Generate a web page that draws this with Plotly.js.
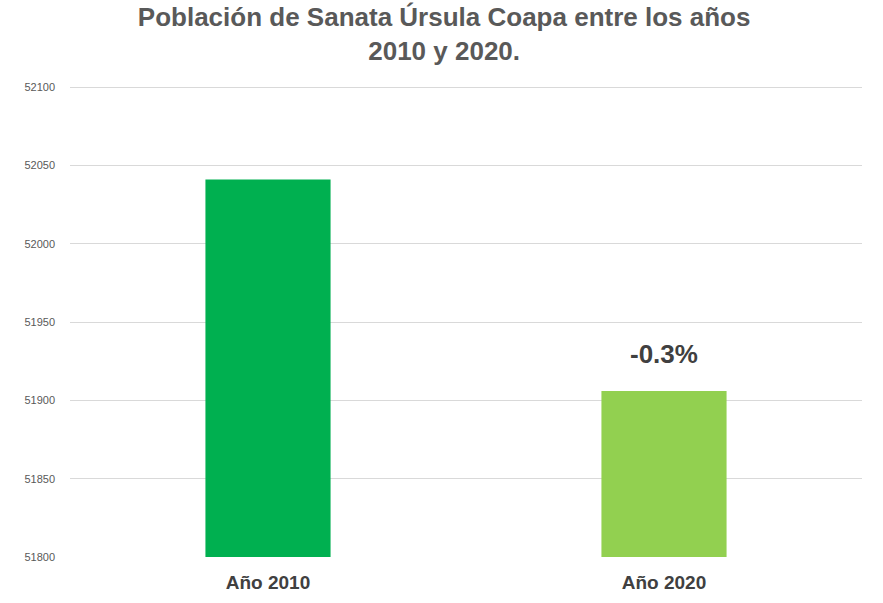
<!DOCTYPE html>
<html>
<head>
<meta charset="utf-8">
<script src="https://cdn.plot.ly/plotly-3.0.1.min.js"></script>
<style>html,body{margin:0;padding:0;background:#fff;}#chart{width:883px;height:603px;}</style>
</head>
<body>
<div id="chart"></div>
<script>
const categories = ['Año 2010', 'Año 2020'];
const population = [52041, 51906];
const barColors = ['#00B050', '#92D050'];
const changeLabel = '-0.3%';
const yTicks = [51800, 51850, 51900, 51950, 52000, 52050, 52100];

const trace = {
  type: 'bar',
  x: categories,
  y: population,
  marker: {color: barColors},
  width: 0.316,
  hoverinfo: 'x+y'
};

const layout = {
  width: 883, height: 603,
  margin: {l: 70, r: 21, t: 86, b: 46},
  paper_bgcolor: '#ffffff', plot_bgcolor: '#ffffff',
  title: {
    text: '<b>Población de Sanata Úrsula Coapa entre los años<br>2010 y 2020.</b>',
    font: {family: 'Liberation Sans, Arial, sans-serif', size: 26, color: '#595959', lineposition: 'none'},
    x: 0.503, xanchor: 'center', xref: 'container', yref: 'container', y: 0.957, yanchor: 'middle'
  },
  showlegend: false,
  bargap: 0.684,
  xaxis: {
    type: 'category',
    showgrid: false, zeroline: false, showline: false, ticks: '',
    tickfont: {family: 'Liberation Sans, Arial, sans-serif', size: 19, color: '#404040', weight: 'bold'},
    ticklabelstandoff: 12
  },
  yaxis: {
    range: [51800, 52100.7],
    tickvals: yTicks,
    ticktext: yTicks.map(String),
    showgrid: true, gridcolor: '#D9D9D9', gridwidth: 1,
    zeroline: false, showline: false, ticks: '',
    tickfont: {family: 'Liberation Sans Narrow, Liberation Sans, Arial, sans-serif', size: 11, color: '#595959'},
    ticklabelstandoff: 14
  },
  annotations: [{
    x: categories[1], y: population[1], xref: 'x', yref: 'y',
    text: '<b>' + changeLabel + '</b>',
    showarrow: false, yanchor: 'bottom', yshift: 20,
    font: {family: 'Liberation Sans, Arial, sans-serif', size: 26, color: '#404040'}
  }]
};

Plotly.newPlot('chart', [trace], layout, {displayModeBar: false, staticPlot: true});
</script>
</body>
</html>
